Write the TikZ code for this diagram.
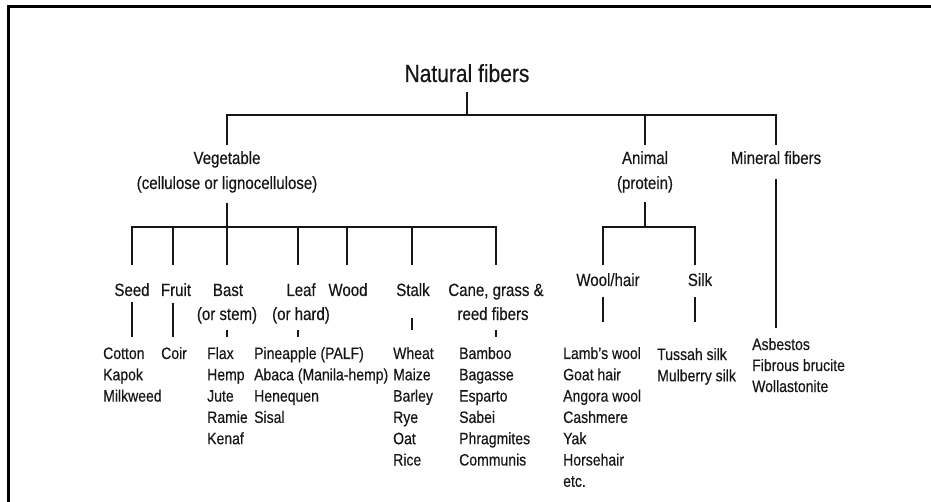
\documentclass[tikz,border=0pt]{standalone}
\usepackage{fontspec}
\setmainfont[FakeStretch=0.85,FakeBold=0.35]{Liberation Sans}
\begin{document}
\definecolor{ink}{HTML}{161616}
\tikzset{
  lbl/.style={inner sep=0pt, anchor=base, text=ink, font=\fontsize{17.7}{21}\selectfont},
  itm/.style={inner sep=0pt, anchor=base west, text=ink, font=\fontsize{16.5}{21}\selectfont},
  ttl/.style={inner sep=0pt, anchor=base, text=ink, font=\fontsize{24.7}{30}\selectfont},
  con/.style={draw=ink, line width=1.4pt},
  frm/.style={draw=black, line width=3pt}
}
\begin{tikzpicture}[x=1pt,y=-1pt]
\useasboundingbox (0,0) rectangle (931,502);
% frame
\draw[frm] (931,6.5) -- (8.3,6.5) -- (8.3,502);
% titles
\node[ttl] (nat) at (467,82) {Natural fibers};
\node[lbl] (veg) at (227,164) {Vegetable};
\node[lbl] (veg2) at (227,189) {(cellulose or lignocellulose)};
\node[lbl] (ani) at (645,164) {Animal};
\node[lbl] (ani2) at (645,189) {(protein)};
\node[lbl] (min) at (776,164) {Mineral fibers};
% vegetable sub-classes
\node[lbl] (seed) at (132,296) {Seed};
\node[lbl] (fruit) at (176,296) {Fruit};
\node[lbl] (bast) at (228,296) {Bast};
\node[lbl] (bast2) at (227,320) {(or stem)};
\node[lbl] (leaf) at (301,296) {Leaf};
\node[lbl] (leaf2) at (301,320) {(or hard)};
\node[lbl] (wood) at (348,296) {Wood};
\node[lbl] (stalk) at (413,296) {Stalk};
\node[lbl] (cane) at (496,296) {Cane, grass \&};
\node[lbl] (cane2) at (493,320) {reed fibers};
% animal sub-classes
\node[lbl] (wool) at (608,286) {Wool/hair};
\node[lbl] (silk) at (700,286) {Silk};
% item lists
\foreach \t [count=\i from 0] in {Cotton,Kapok,Milkweed}
  \node[itm] (cot\i) at (103,359+21.3*\i) {\t};
\node[itm] (coir0) at (161,359) {Coir};
\foreach \t [count=\i from 0] in {Flax,Hemp,Jute,Ramie,Kenaf}
  \node[itm] (fla\i) at (207,359+21.3*\i) {\t};
\foreach \t [count=\i from 0] in {{Pineapple (PALF)},{Abaca (Manila-hemp)},Henequen,Sisal}
  \node[itm] (pin\i) at (254,359+21.3*\i) {\t};
\foreach \t [count=\i from 0] in {Wheat,Maize,Barley,Rye,Oat,Rice}
  \node[itm] (whe\i) at (393,359+21.3*\i) {\t};
\foreach \t [count=\i from 0] in {Bamboo,Bagasse,Esparto,Sabei,Phragmites,Communis}
  \node[itm] (bam\i) at (459,359+21.3*\i) {\t};
\foreach \t [count=\i from 0] in {Lamb's wool,Goat hair,Angora wool,Cashmere,Yak,Horsehair,etc.}
  \node[itm] (lam\i) at (563,359+21.3*\i) {\t};
\foreach \t [count=\i from 0] in {Tussah silk,Mulberry silk}
  \node[itm] (tus\i) at (657,360+21.3*\i) {\t};
\foreach \t [count=\i from 0] in {Asbestos,Fibrous brucite,Wollastonite}
  \node[itm] (asb\i) at (752,350+21*\i) {\t};
% junction coordinates
\coordinate (jroot) at (467,115);
\coordinate (jveg) at (227,227);
\coordinate (jani) at (645,227);
% root tree
\draw[con] (nat.base |- 0,92) -- (jroot);
\draw[con] (veg.base |- 0,145) -- (veg.base |- jroot) -- (min.base |- jroot) -- (min.base |- 0,145);
\draw[con] (ani.base |- jroot) -- (ani.base |- 0,145);
% vegetable tree
\draw[con] (veg2.base |- 0,203) -- (jveg);
\draw[con] (132,265) -- (132,227) -- (496,227) -- (496,265);
\foreach \x in {173,227,298,347,412}
  \draw[con] (\x,227) -- (\x,265);
% animal tree
\draw[con] (ani2.base |- 0,202) -- (jani);
\draw[con] (603,265) -- (603,227) -- (695,227) -- (695,265);
% mineral
\draw[con] (min.base |- 0,179) -- (min.base |- 0,328);
% connectors from classes to lists
\draw[con] (seed.base |- 0,302) -- (seed.base |- 0,337);
\draw[con] (173,303) -- (173,337);
\draw[con] (227,330) -- (227,337);
\draw[con] (298,330) -- (298,337);
\draw[con] (412,318) -- (412,330);
\draw[con] (496,330) -- (496,337);
\draw[con] (603,297) -- (603,322);
\draw[con] (695,297) -- (695,322);
\end{tikzpicture}
\end{document}
